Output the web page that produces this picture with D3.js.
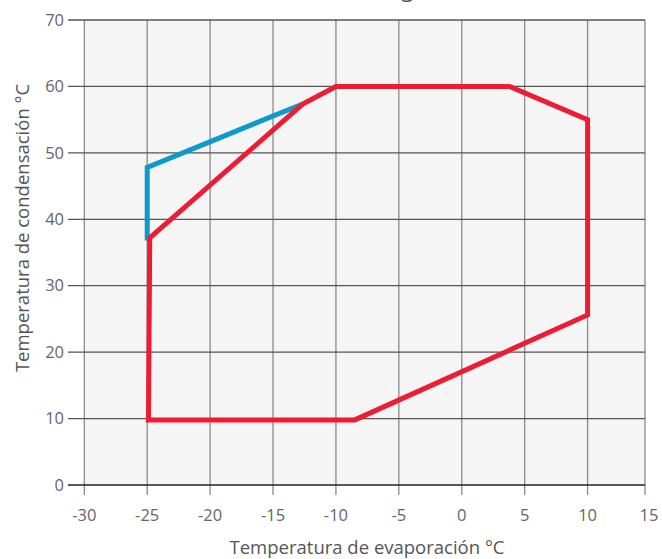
<!DOCTYPE html>
<html><head><meta charset="utf-8">
<script src="https://cdn.jsdelivr.net/npm/d3@7"></script>
<style>
body{margin:0;background:#fff;}
text{font-family:"Open Sans","Noto Sans",sans-serif;}
</style></head>
<body><svg id="c" width="662" height="559"></svg>
<script>
const xTicks = [-30,-25,-20,-15,-10,-5,0,5,10,15];
const yTicks = [0,10,20,30,40,50,60,70];
const blueX = [-25, -25, -12.6];
const blueY = [36.8, 47.8, 57.4];
const redX = [-12.6, -10, 3.8, 10, 10, -8.5, -24.9, -24.8, -12.6];
const redY = [57.4, 60, 60, 55, 25.6, 9.8, 9.8, 37.2, 57.4];
const titleText = "Rango de funcionamiento";
const xLabel = "Temperatura de evaporación °C";
const yLabel = "Temperatura de condensación °C";

const svg = d3.select("#c");
const L = 84.3, R = 650.5, T = 20, B = 485;
const x = d3.scaleLinear().domain([-30,15]).range([L,R]);
const y = d3.scaleLinear().domain([0,70]).range([B,T]);
const plotR = 645;

svg.append("text").attr("x",362).attr("y",-3).attr("font-size",22).attr("fill","#555").text(titleText);

svg.append("rect").attr("x",L).attr("y",T).attr("width",plotR-L).attr("height",B-T).attr("fill","#f5f5f5");

// vertical grid
svg.append("g").selectAll("line").data(xTicks.filter(d=>d<15)).join("line")
  .attr("x1",d=>x(d)).attr("x2",d=>x(d)).attr("y1",T).attr("y2",B+10)
  .attr("stroke","#8a8a8a").attr("stroke-width",1.3);
svg.append("line").attr("x1",plotR).attr("x2",plotR).attr("y1",T).attr("y2",B+10)
  .attr("stroke","#8a8a8a").attr("stroke-width",1.3);
// horizontal grid
svg.append("g").selectAll("line").data(yTicks).join("line")
  .attr("x1",68).attr("x2",plotR).attr("y1",d=>y(d)).attr("y2",d=>y(d))
  .attr("stroke",d=>d===0?"#222":"#555").attr("stroke-width",1.3);

// tick labels
svg.append("g").selectAll("text").data(yTicks).join("text")
  .attr("x",64).attr("y",d=>y(d)).attr("dy","0.35em").attr("text-anchor","end")
  .attr("font-size",16.5).attr("fill","#666").text(d=>d);
svg.append("g").selectAll("text").data(xTicks).join("text")
  .attr("x",d=>d===15?649:x(d)).attr("y",521).attr("text-anchor","middle")
  .attr("font-size",16.5).attr("fill","#666").text(d=>d);

svg.append("text").attr("x",367).attr("y",554).attr("text-anchor","middle")
  .attr("font-size",18.5).attr("fill","#555").text(xLabel);
svg.append("text").attr("transform","translate(29,228) rotate(-90)").attr("text-anchor","middle")
  .attr("font-size",18.5).attr("fill","#555").text(yLabel);

const line = d3.line().x(d=>x(d[0])).y(d=>y(d[1]));
svg.append("path").datum(blueX.map((v,i)=>[v,blueY[i]])).attr("d",line)
  .attr("fill","none").attr("stroke","#0a9bcb").attr("stroke-width",5).attr("stroke-linejoin","miter");
svg.append("path").datum(redX.map((v,i)=>[v,redY[i]])).attr("d",line)
  .attr("fill","none").attr("stroke","#ee1c32").attr("stroke-width",5).attr("stroke-linejoin","miter");
</script></body></html>
